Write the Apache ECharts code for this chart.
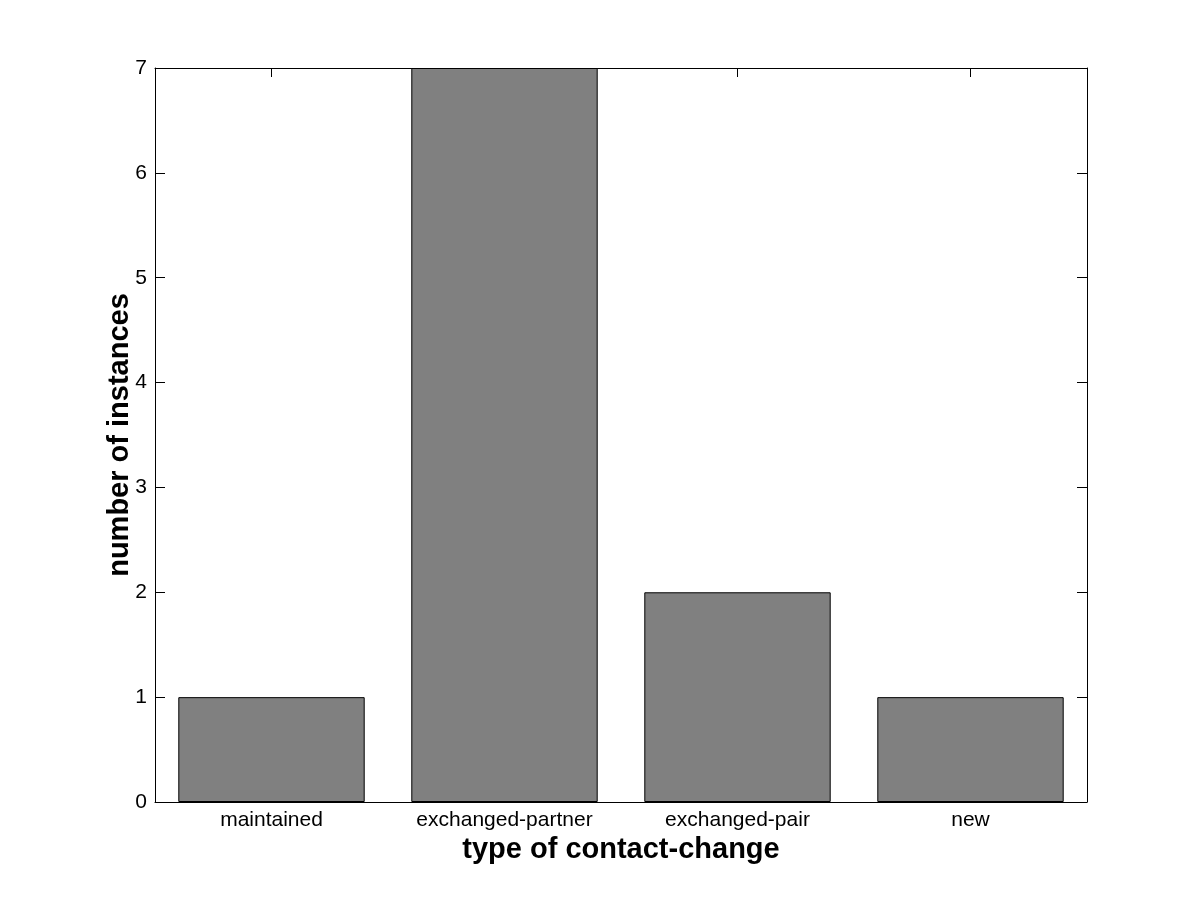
<!DOCTYPE html>
<html><head><meta charset="utf-8">
<script src="https://cdn.jsdelivr.net/npm/echarts@6/dist/echarts.min.js"></script>
<style>html,body{margin:0;padding:0;background:#fff}#c{width:1201px;height:901px}</style>
</head><body><div id="c"></div>
<script>
const categories = ['maintained', 'exchanged-partner', 'exchanged-pair', 'new'];
const counts = [1, 7, 2, 1];
const yTicks = [0, 1, 2, 3, 4, 5, 6, 7];

const font = 'Liberation Sans, Arial, sans-serif';
const chart = echarts.init(document.getElementById('c'));
chart.setOption({
  animation: false,
  backgroundColor: '#fff',
  grid: { left: 155, right: 114, top: 68, bottom: 99, containLabel: false },
  xAxis: [{
    type: 'category', data: categories, position: 'bottom',
    name: 'type of contact-change', nameLocation: 'middle', nameGap: 33,
    nameTextStyle: { fontFamily: font, fontSize: 29, fontWeight: 'bold', color: '#000' },
    axisLine: { onZero: false, lineStyle: { color: '#000', width: 1 } },
    axisTick: { show: true, inside: true, alignWithLabel: true, length: 9, lineStyle: { color: '#000' } },
    axisLabel: { fontFamily: font, fontSize: 21, color: '#000', margin: 8 },
    splitLine: { show: false }
  }, {
    type: 'category', data: categories, position: 'top',
    axisLine: { onZero: false, lineStyle: { color: '#000', width: 1 } },
    axisTick: { show: true, inside: true, alignWithLabel: true, length: 9, lineStyle: { color: '#000' } },
    axisLabel: { show: false }, splitLine: { show: false }
  }],
  yAxis: [{
    type: 'value', min: yTicks[0], max: yTicks[yTicks.length - 1], interval: 1, position: 'left',
    name: 'number of instances', nameLocation: 'middle', nameGap: 21, nameMoveOverlap: false,
    nameTextStyle: { fontFamily: font, fontSize: 29, fontWeight: 'bold', color: '#000' },
    axisLine: { show: true, onZero: false, lineStyle: { color: '#000', width: 1 } },
    axisTick: { show: true, inside: true, length: 10, lineStyle: { color: '#000' } },
    axisLabel: { fontFamily: font, fontSize: 21, color: '#000', margin: 8 },
    splitLine: { show: false }
  }, {
    type: 'value', min: yTicks[0], max: yTicks[yTicks.length - 1], interval: 1, position: 'right',
    axisLine: { show: true, onZero: false, lineStyle: { color: '#000', width: 1 } },
    axisTick: { show: true, inside: true, length: 10, lineStyle: { color: '#000' } },
    axisLabel: { show: false }, splitLine: { show: false }
  }],
  series: [{
    type: 'bar', data: counts, xAxisIndex: 0, yAxisIndex: 0,
    barCategoryGap: '20%',
    itemStyle: { color: '#808080', borderColor: '#000', borderWidth: 1 }
  }]
});
</script></body></html>
